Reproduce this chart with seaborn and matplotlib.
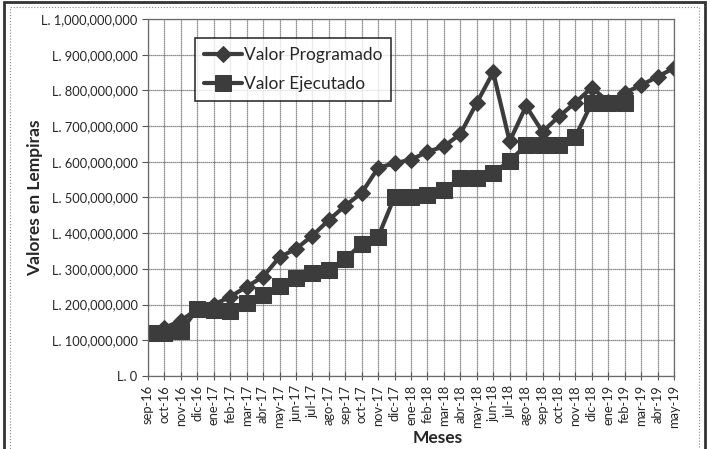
import pandas as pd
import numpy as np
import matplotlib.pyplot as plt
import seaborn as sns
from matplotlib.ticker import FuncFormatter, MultipleLocator
from matplotlib.patches import Rectangle

meses = ["sep-16", "oct-16", "nov-16", "dic-16", "ene-17", "feb-17", "mar-17", "abr-17",
         "may-17", "jun-17", "jul-17", "ago-17", "sep-17", "oct-17", "nov-17", "dic-17",
         "ene-18", "feb-18", "mar-18", "abr-18", "may-18", "jun-18", "jul-18", "ago-18",
         "sep-18", "oct-18", "nov-18", "dic-18", "ene-19", "feb-19", "mar-19", "abr-19",
         "may-19"]

programado = [120, 135, 155, 188, 200, 222, 250, 278, 333, 356, 393, 437, 477, 513, 583, 596,
              606, 628, 643, 678, 765, 851, 657, 756, 684, 727, 766, 808, 768, 793, 815, 838, 863]
ejecutado = [120, 120, 125, 188, 186, 183, 204, 228, 252, 274, 288, 298, 328, 370, 390, 502,
             502, 506, 521, 554, 554, 568, 603, 646, 646, 646, 670, 765, 765, 765]

millones = 1_000_000
df_prog = pd.DataFrame({"mes": range(len(programado)),
                        "valor": np.array(programado) * millones})
df_ejec = pd.DataFrame({"mes": range(len(ejecutado)),
                        "valor": np.array(ejecutado) * millones})

sns.set_style("white")
plt.rcParams["font.family"] = ["Lato", "DejaVu Sans"]

fig = plt.figure(figsize=(7.1, 4.49), dpi=100)
ax = fig.add_axes([148 / 710, 1 - 376 / 449, (674 - 148) / 710, (376 - 19) / 449])

color = "#3c3c3c"
sns.lineplot(data=df_prog, x="mes", y="valor", ax=ax, color=color, linewidth=3,
             marker="D", markersize=8.5, markeredgecolor=color, label="Valor Programado")
sns.lineplot(data=df_ejec, x="mes", y="valor", ax=ax, color=color, linewidth=3,
             marker="s", markersize=11, markeredgecolor=color, label="Valor Ejecutado")

ax.set_xlim(0, len(meses) - 1)
ax.set_ylim(0, 1_000_000_000)
ax.yaxis.set_major_locator(MultipleLocator(100_000_000))
ax.yaxis.set_major_formatter(FuncFormatter(lambda v, p: "L. {:,.0f}".format(v)))
ax.set_xticks(range(len(meses)))
ax.set_xticklabels(meses, rotation=90, fontsize=9.3)
ax.tick_params(axis="y", labelsize=9.3, length=4, direction="out", left=True, color="#555555")
ax.tick_params(axis="x", length=6, direction="inout", bottom=True, color="#555555")

ax.grid(True, color="#6a6a6a", linewidth=0.9, linestyle=(0, (1, 0.6)))
ax.set_axisbelow(True)
for s in ax.spines.values():
    s.set_color("#6a6a6a")
    s.set_linewidth(0.9)

ax.set_xlabel("Meses", fontsize=12.5, fontweight="bold", labelpad=0)
ax.xaxis.set_label_coords(0.55, -0.15)
ax.set_ylabel("Valores en Lempiras", fontsize=12.5, fontweight="bold")
ax.yaxis.set_label_coords(-0.2, 0.5)

leg = ax.legend(loc="upper left", bbox_to_anchor=(0.073, 0.97), frameon=True,
                fancybox=False, fontsize=12.5, handlelength=2.2, borderpad=0.5,
                labelspacing=0.75, handletextpad=0.1)
leg.get_frame().set_edgecolor("black")
leg.get_frame().set_linewidth(1.2)

# marco exterior (cortado abajo como en la imagen)
fig.patches.append(Rectangle((0.005, -0.05), 0.988, 1.046, transform=fig.transFigure,
                             fill=False, edgecolor="#333333", linewidth=2))
fig.patches.append(Rectangle((0.014, -0.05), 0.97, 1.034, transform=fig.transFigure,
                             fill=False, edgecolor="#888888", linewidth=0.8, linestyle=":"))

fig.savefig("out.png", dpi=100)
